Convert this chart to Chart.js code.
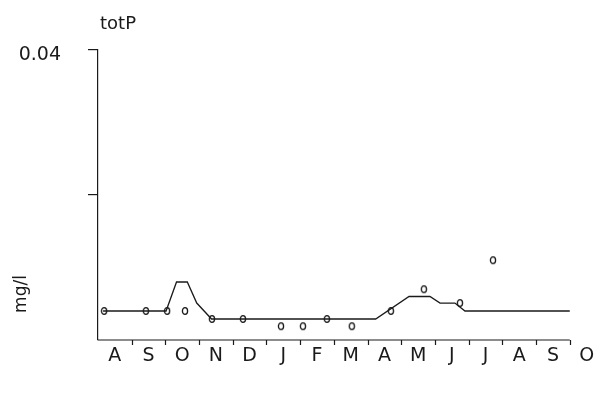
<!DOCTYPE html>
<html>
<head>
<meta charset="utf-8">
<script src="https://cdn.jsdelivr.net/npm/chart.js"></script>
<style>
  html, body { margin: 0; background: #fff; }
  #wrap { width: 600px; height: 394px; }
</style>
</head>
<body>
<div id="wrap"><canvas id="myChart"></canvas></div>
<script>
// month labels, Aug .. Oct of the next year
var monthLabels = ["A","S","O","N","D","J","F","M","A","M","J","J","A","S","O"];

// measured samples (x = months since start of Aug)
var obsX = [0.18, 1.42, 2.05, 2.58, 3.38, 4.30, 5.43, 6.08, 6.79, 7.53, 8.69, 9.67, 10.74, 11.72];
var obsY = [0.0040, 0.0040, 0.0040, 0.0040, 0.0029, 0.0029, 0.0019, 0.0019, 0.0029, 0.0019, 0.0040, 0.0070, 0.0051, 0.0110];

// model curve
var lineX = [0.15, 2.02, 2.33, 2.65, 2.93, 3.37, 8.24, 9.23, 9.85, 10.15, 10.59, 10.89, 14.0];
var lineY = [0.0040, 0.0040, 0.0080, 0.0080, 0.0051, 0.0029, 0.0029, 0.0060, 0.0060, 0.0051, 0.0051, 0.0040, 0.0040];

var yTicks = [0.02, 0.04];
var ink = "#1a1a1a";
var font = "'DejaVu Sans', sans-serif";

// little "o" marker, slightly taller than wide
var oMark = document.createElement("canvas");
oMark.width = 8; oMark.height = 10;
var oc = oMark.getContext("2d");
oc.strokeStyle = ink;
oc.lineWidth = 1.3;
oc.beginPath();
oc.ellipse(4, 5, 2.6, 3.4, 0, 0, Math.PI * 2);
oc.stroke();

var toXY = function (xs, ys) {
  return xs.map(function (x, i) { return { x: x, y: ys[i] }; });
};

// x axis line + month ticks, and the free texts
var extras = {
  id: "extras",
  afterDraw: function (chart) {
    var ctx = chart.ctx;
    var xs = chart.scales.x;
    var y0 = chart.scales.y.getPixelForValue(0);
    ctx.save();
    ctx.strokeStyle = ink;
    ctx.lineWidth = 1.2;
    ctx.beginPath();
    ctx.moveTo(xs.getPixelForValue(0), y0);
    ctx.lineTo(xs.getPixelForValue(14), y0);
    for (var m = 1; m <= 14; m++) {
      var px = Math.round(xs.getPixelForValue(m)) + 0.5;
      ctx.moveTo(px, y0);
      ctx.lineTo(px, y0 + 5);
    }
    ctx.stroke();

    ctx.fillStyle = ink;
    ctx.font = "18px " + font;
    ctx.textBaseline = "alphabetic";
    ctx.textAlign = "left";
    ctx.fillText("totP", 100, 29);

    ctx.translate(22, 294);
    ctx.rotate(-Math.PI / 2);
    ctx.textAlign = "center";
    ctx.textBaseline = "middle";
    ctx.font = "17px " + font;
    ctx.fillText("mg/l", 0, 0);
    ctx.restore();
  }
};

new Chart("myChart", {
  type: "scatter",
  data: {
    datasets: [
      {
        type: "line",
        data: toXY(lineX, lineY),
        borderColor: ink,
        borderWidth: 1.3,
        pointRadius: 0,
        tension: 0,
        fill: false
      },
      {
        data: toXY(obsX, obsY),
        pointStyle: oMark,
        pointRadius: 4,
        showLine: false
      }
    ]
  },
  options: {
    responsive: true,
    maintainAspectRatio: false,
    animation: false,
    layout: { padding: { top: 50, right: 10, left: 0, bottom: 0 } },
    plugins: {
      legend: { display: false },
      tooltip: { enabled: false }
    },
    scales: {
      x: {
        type: "linear",
        min: 0,
        max: 14.6,
        afterBuildTicks: function (scale) {
          scale.ticks = monthLabels.map(function (m, i) { return { value: i + 0.5 }; });
        },
        afterFit: function (scale) { scale.height = 54; },
        grid: { display: false },
        border: { display: false },
        ticks: {
          autoSkip: false,
          maxRotation: 0,
          padding: -3,
          color: ink,
          font: { family: font, size: 19 },
          callback: function (v, i) { return monthLabels[i]; }
        }
      },
      y: {
        min: 0,
        max: 0.04,
        afterBuildTicks: function (scale) {
          scale.ticks = yTicks.map(function (v) { return { value: v }; });
        },
        afterFit: function (scale) { scale.width = 98; },
        grid: {
          drawOnChartArea: false,
          tickLength: 10,
          color: ink,
          lineWidth: 1.2
        },
        border: { display: true, color: ink, width: 1.2 },
        ticks: {
          padding: 27,
          labelOffset: 5,
          color: ink,
          font: { family: font, size: 19 },
          callback: function (v) { return v === 0.04 ? "0.04" : ""; }
        }
      }
    }
  },
  plugins: [extras]
});
</script>
</body>
</html>
